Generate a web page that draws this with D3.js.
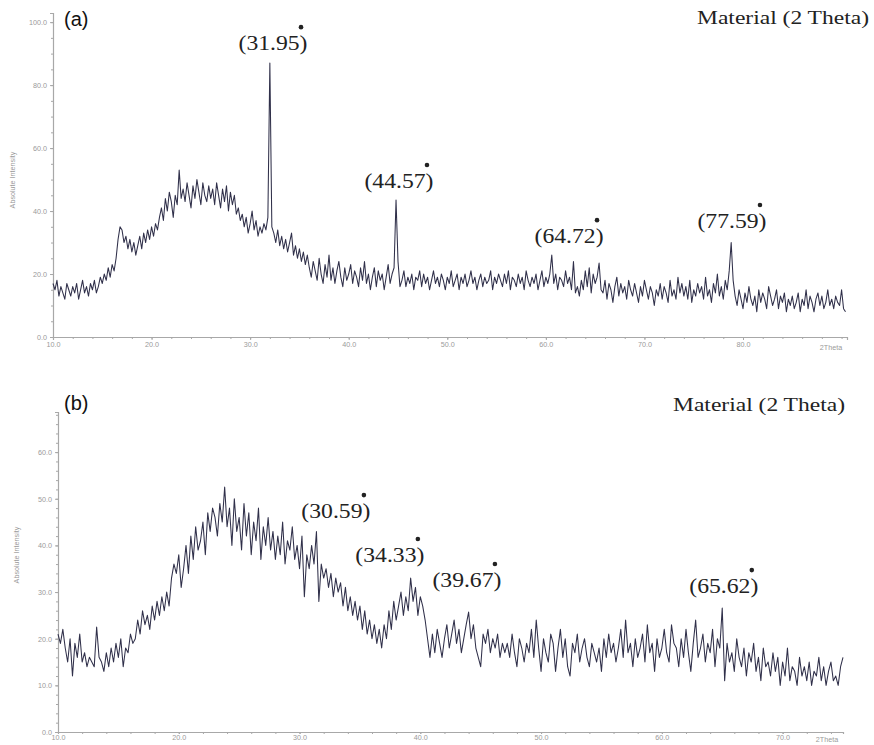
<!DOCTYPE html>
<html><head><meta charset="utf-8">
<script src="https://cdn.jsdelivr.net/npm/d3@7"></script>
<style>body{margin:0;background:#fff}</style>
</head><body>
<svg id="chart" width="874" height="745"></svg>
<script>
// ---------- DATA ----------
// Panel (a): scan 10.0° .. 90.4°, step 0.2°
const scanStartA = 10, scanStepA = 0.2;
const intensityA = [
 17,15,18,13,16,14,12,17,15,13,16,14,17,12,15,18,14,16,13,17,15,18,14,16,19,
 17,20,18,22,19,23,21,25,
 31,35,34,30,
 32,28,31,27,30,26,29,32,28,
 33,30,34,31,35,32,36,34,
 38,41,37,44,40,46,43,38,45,42,
 53,44,
 47,43,49,45,41,48,44,50,46,42,49,45,43,48,44,47,42,49,45,41,47,43,48,40,46,42,45,39,
 41,37,39,35,38,33,36,40,34,37,32,35,33,36,34,
 38,87,35,
 33,30,34,29,32,28,31,27,30,33,26,29,25,28,24,27,23,26,22,
 19,24,21,18,25,20,17,23,19,26,18,22,17,21,24,19,16,22,18,20,23,17,21,19,16,22,18,24,17,20,15,19,22,16,21,18,20,15,19,23,17,20,
 22,43.5,24,16,
 18,21,16,19,17,20,15,19,18,21,16,20,17,19,15,18,21,17,19,16,20,18,15,19,17,21,16,18,20,15,19,17,20,16,18,21,17,19,15,18,
 20,16,19,17,18,21,15,19,17,20,18,16,20,17,21,15,19,18,16,20,17,19,15,21,18,16,19,17,20,15,18,21,16,19,17,20,
 26,17,
 20,15,19,18,16,21,17,19,15,
 24,
 14,16,13,18,15,
 21,16,22,14,20,17,19,
 23.5,15,
 14,18,12,17,15,11,16,19,13,17,14,16,12,18,15,13,17,14,11,16,13,18,15,12,16,14,10,15,13,17,12,16,14,11,18,13,15,12,19,14,
 17,13,16,12,18,11,15,13,17,14,16,12,19,13,15,11,17,14,20,13,16,12,18,15,21,
 30,18,
 13,10,15,12,9,14,11,16,12,10,13,8,15,11,14,12,9,16,13,10,12,15,9,13,11,14,8,12,10,13,9,11,14,8,12,10,15,9,13,11,
 8,12,14,10,13,9,11,15,10,12,9,13,11,10,15,9,8
];
// Panel (b): scan 10.0° .. 75.0°, step 0.2°
const scanStartB = 10, scanStepB = 0.2;
const intensityB = [
 21,19,22,18,15,20,12,19,16,21,15,17,14,16,15,14,22.5,16,15,13,17,14,18,15,19,16,20,14,18,17,21,19,20,
 24,21,26,23,25,22,27,24,28,25,29,26,30,27,
 33,36,34,38,31,35,40,34,42,37,44,39,41,45,38,47,43,48,
 46,42,49,45,
 52.5,
 44,48,40,50,43,46,39,49,42,47,38,45,41,48,37,44,40,46,39,43,37,42,38,45,36,41,39,44,37,40,35,42,
 29,
 38,35,40,36,
 43,28,
 36,33,35,31,34,29,33,30,32,27,31,26,29,25,28,24,27,22,26,21,24,20,23,19,22,
 18,
 23,20,26,22,28,24,27,30,25,29,26,33,28,31,25,29,27,24,
 20,16,
 21,17,22,19,16,20,23,18,21,24,19,22,17,20,23,25.7,20,23,18,16,14,21,19,22,17,20,18,21,16,19,17,
 19,16,21,17,14,20,18,15,19,17,22,16,24,18,13,20,17,15,21,19,13,18,22,16,20,14,12,19,17,21,
 15,18,20,16,14,19,17,15,18,13,20,16,21,17,19,15,18,22,16,24,17,19,14,20,16,18,21,15,23,17,
 19,13,20,16,18,22,17,15,23,19,18,14,20,16,22,17,13,19,24,16,18,21,15,19,17,22,14,20,18,
 26.6,11,
 19,15,17,13,20,16,14,18,12,17,15,19,13,16,11,18,14,15,12,17,13,16,10,15,12,18,11,14,13,10,
 16,12,14,11,15,10,13,12,16,11,14,10,13,15,11,12,10,14,16
];
// Axis ticks
const yTicksA = [0,20,40,60,80,100];
const xTicksA = [10,20,30,40,50,60,70,80];
const yTicksB = [0,10,20,30,40,50,60];
const xTicksB = [10,20,30,40,50,60,70];
// Peak annotations (text, label anchor in data units)
const peakLabelsA = ["(31.95)","(44.57)","(64.72)","(77.59)"];
const peakLabelThetaA = [32.32,45.10,62.35,78.88];
const peakLabelIntA = [91.1,47.3,29.8,34.6];
const peakLabelsB = ["(30.59)","(34.33)","(39.67)","(65.62)"];
const peakLabelThetaB = [33.01,37.48,43.86,65.13];
const peakLabelIntB = [45.85,36.43,31.07,29.78];
const panelTags = ["(a)","(b)"];
const titleText = "Material (2 Theta)";
const xAxisName = "2Theta";
const yAxisName = "Absolute Intensity";

// ---------- DRAW ----------
const svg = d3.select("#chart");
const axisColor = "#a8a8a8", labelColor = "#9a9a9a";

function panel(cfg){
  const g = svg.append("g");
  const x = d3.scaleLinear().domain(cfg.xDomain).range(cfg.xRange);
  const y = d3.scaleLinear().domain(cfg.yDomain).range(cfg.yRange);
  const data = cfg.values.map((v,i)=>({t: cfg.start + i*cfg.step, v}));

  g.append("g").attr("transform",`translate(${cfg.xRange[0]},0)`)
    .call(d3.axisLeft(y).tickValues(cfg.yTicks).tickFormat(d3.format(".1f")).tickSize(3).tickPadding(3));
  g.append("g").attr("transform",`translate(${cfg.xRange[0]},0)`)
    .call(d3.axisLeft(y).tickValues(d3.range(cfg.yDomain[0], cfg.yDomain[1], cfg.yMinor)).tickFormat("").tickSize(2))
    .call(s=>s.select(".domain").remove());
  g.append("g").attr("transform",`translate(0,${cfg.yRange[0]})`)
    .call(d3.axisBottom(x).tickValues(cfg.xTicks).tickFormat(d3.format(".1f")).tickSize(cfg.xTickSize).tickPadding(cfg.xPad));
  g.append("g").attr("transform",`translate(0,${cfg.yRange[0]})`)
    .call(d3.axisBottom(x).tickValues(d3.range(cfg.xDomain[0], cfg.xDomain[1], cfg.xMinor)).tickFormat("").tickSize(2))
    .call(s=>s.select(".domain").remove());
  g.selectAll(".domain, .tick line").attr("stroke", axisColor);
  g.selectAll(".domain").attr("stroke-width",1.2);
  g.selectAll(".tick text").attr("fill", labelColor).attr("font-size", 7.2)
    .attr("font-family","Liberation Sans, Arial, sans-serif");

  g.append("text").attr("x", cfg.xRange[1]-16).attr("y", cfg.yRange[0]+cfg.xNameDy)
    .attr("text-anchor","middle").attr("font-size",7.2).attr("fill",labelColor)
    .attr("font-family","Liberation Sans, Arial, sans-serif").text(xAxisName);

  g.append("text").attr("transform",`translate(${cfg.yLabelX},${cfg.yLabelY}) rotate(-90)`)
    .attr("text-anchor","middle").attr("font-size",7.2).attr("fill",labelColor)
    .attr("font-family","Liberation Sans, Arial, sans-serif").text(yAxisName);

  g.append("path").datum(data)
    .attr("fill","none").attr("stroke","#30304a").attr("stroke-width",1.05)
    .attr("stroke-linejoin","round")
    .attr("d", d3.line().x(d=>x(d.t)).y(d=>y(d.v)));

  g.append("text").attr("x", cfg.tagX).attr("y", cfg.tagY)
    .attr("font-family","Liberation Sans, Arial, sans-serif").attr("font-size",20)
    .attr("fill","#111").text(cfg.tag);
  g.append("text").attr("x", cfg.titleX).attr("y", cfg.titleY)
    .attr("font-family","Liberation Serif, Times New Roman, serif").attr("font-size",19)
    .attr("textLength",172).attr("lengthAdjust","spacingAndGlyphs")
    .attr("fill","#222").text(titleText);

  cfg.labels.forEach((lab,i)=>{
    const cx = x(cfg.labTheta[i]), by = y(cfg.labInt[i]);
    g.append("text").attr("x", cx).attr("y", by).attr("text-anchor","middle")
      .attr("font-family","Liberation Serif, Times New Roman, serif").attr("font-size",20)
      .attr("textLength",69).attr("lengthAdjust","spacingAndGlyphs")
      .attr("fill","#222").text(lab);
    g.append("circle").attr("cx", cx+28).attr("cy", by-23).attr("r",2.3).attr("fill","#222");
  });
}

panel({
  values:intensityA, start:scanStartA, step:scanStepA,
  xDomain:[10,90.55], xRange:[53,847], yDomain:[0,102.9], yRange:[337,13],
  xTicks:xTicksA, yTicks:yTicksA, xMinor:2, yMinor:5, xTickSize:3, xPad:2, xNameDy:13,
  yLabelX:15, yLabelY:180, tag:panelTags[0], tagX:64, tagY:26,
  titleX:697, titleY:24,
  labels:peakLabelsA, labTheta:peakLabelThetaA, labInt:peakLabelIntA
});
panel({
  values:intensityB, start:scanStartB, step:scanStepB,
  xDomain:[10,75], xRange:[58,843], yDomain:[0,68.6], yRange:[732,412],
  xTicks:xTicksB, yTicks:yTicksB, xMinor:2, yMinor:2, xTickSize:2, xPad:1, xNameDy:10,
  yLabelX:19, yLabelY:555, tag:panelTags[1], tagX:64, tagY:410,
  titleX:673, titleY:411,
  labels:peakLabelsB, labTheta:peakLabelThetaB, labInt:peakLabelIntB
});
</script>
</body></html>
